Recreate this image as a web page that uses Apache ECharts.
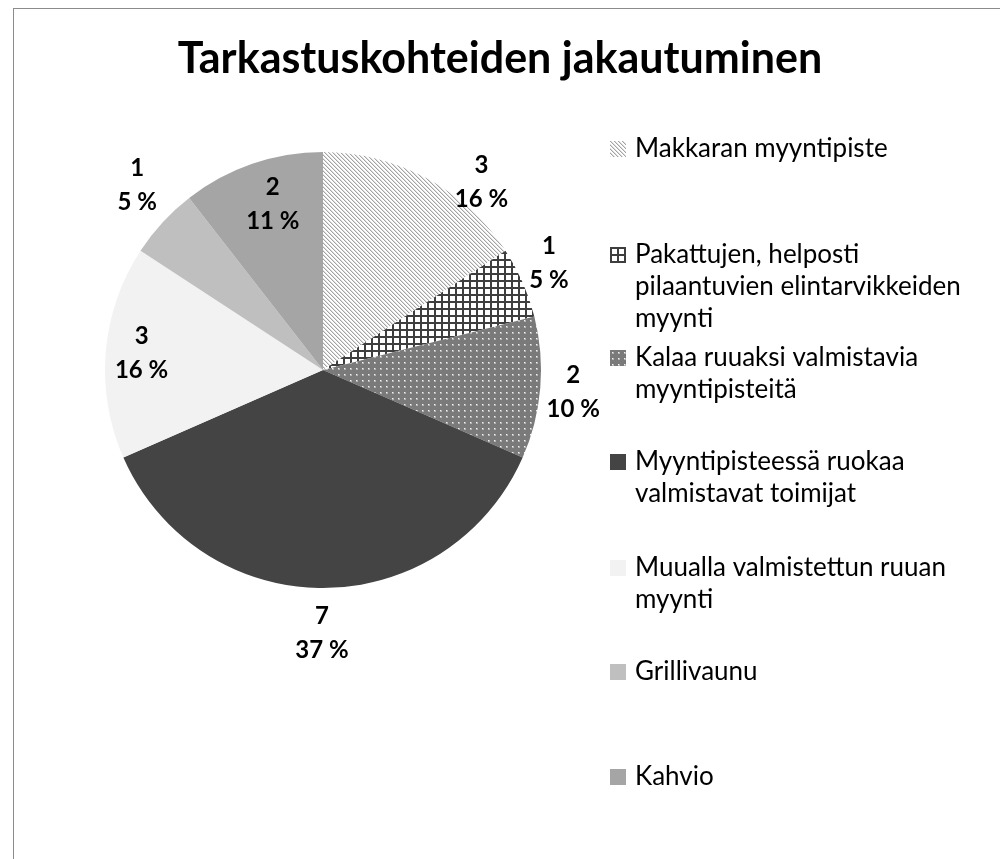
<!DOCTYPE html>
<html><head><meta charset="utf-8">
<script src="https://cdn.jsdelivr.net/npm/echarts@6/dist/echarts.min.js"></script>
<style>
html,body{margin:0;padding:0;background:#fff;overflow:hidden;}
#frame{position:absolute;left:13px;top:8px;width:1100px;height:1000px;border:1px solid #8c8c8c;}
#chart{position:absolute;left:0;top:0;width:1000px;height:859px;}
</style></head><body>
<div id="frame"></div>
<div id="chart"></div>
<script>
// ---- data ----
const titleText = 'Tarkastuskohteiden jakautuminen';
const categories = [
  'Makkaran myyntipiste',
  'Pakattujen, helposti pilaantuvien elintarvikkeiden myynti',
  'Kalaa ruuaksi valmistavia myyntipisteitä',
  'Myyntipisteessä ruokaa valmistavat toimijat',
  'Muualla valmistettun ruuan myynti',
  'Grillivaunu',
  'Kahvio'
];
const legendLines = [
  ['Makkaran myyntipiste'],
  ['Pakattujen, helposti', 'pilaantuvien elintarvikkeiden', 'myynti'],
  ['Kalaa ruuaksi valmistavia', 'myyntipisteitä'],
  ['Myyntipisteessä ruokaa', 'valmistavat toimijat'],
  ['Muualla valmistettun ruuan', 'myynti'],
  ['Grillivaunu'],
  ['Kahvio']
];
const values = [3, 1, 2, 7, 3, 1, 2];
const percentLabels = ['16 %', '5 %', '10 %', '37 %', '16 %', '5 %', '11 %'];

// ---- layout / style config ----
const legendFirstLineCenters = [149, 255, 358, 462, 568, 672, 777];
const labelRadialOffset = [31, 32, 35, 45, -36, 44, -45];
const labelShift = [[40, 31], [-3, -6], [-2, 1], [-1, 0], [0, -2], [7, -7], [6, -2]];
const LH = 32;
const FONT = 'Lato, "Open Sans", sans-serif';

function tile(w, h, draw) {
  const c = document.createElement('canvas');
  c.width = w; c.height = h;
  const g = c.getContext('2d');
  draw(g);
  return { image: c, repeat: 'repeat' };
}
const stripes = tile(4, 4, g => {
  g.fillStyle = '#ffffff'; g.fillRect(0, 0, 4, 4);
  for (let i = 0; i < 4; i++) {
    g.fillStyle = '#a4a4a4'; g.fillRect(i, i, 1, 1);
    g.fillStyle = '#dedede'; g.fillRect((i + 1) % 4, i, 1, 1);
  }
});
const grid = tile(7, 7, g => {
  g.fillStyle = '#ffffff'; g.fillRect(0, 0, 7, 7);
  g.fillStyle = '#3e3e3e'; g.fillRect(0, 0, 7, 2); g.fillRect(0, 0, 2, 7);
});
const dots = tile(6, 6, g => {
  g.fillStyle = '#7a7a7a'; g.fillRect(0, 0, 6, 6);
  g.fillStyle = '#b4b4b4'; g.fillRect(2, 2, 2, 2);
  g.fillStyle = '#f4f4f4'; g.fillRect(2, 2, 1, 1);
});
const fills = [stripes, grid, dots, '#444444', '#f2f2f2', '#bfbfbf', '#a5a5a5'];

const pieData = categories.map((name, i) => ({
  name: name,
  value: values[i],
  itemStyle: { color: fills[i] },
  labelLine: { show: false, length: labelRadialOffset[i], length2: 0 }
}));

const legends = categories.map((name, i) => {
  const n = legendLines[i].length;
  return {
    orient: 'vertical',
    left: 610,
    top: legendFirstLineCenters[i] - (2 * n - 1) * LH / 2,
    padding: 0,
    itemWidth: 16,
    itemHeight: 16,
    itemGap: 0,
    selectedMode: false,
    icon: 'rect',
    data: [{ name: name }],
    formatter: () => '\n'.repeat(n - 1) + legendLines[i].join('\n'),
    textStyle: { fontFamily: FONT, fontSize: 26, lineHeight: LH, color: '#000', padding: [0, 0, 0, 4] }
  };
});

const chart = echarts.init(document.getElementById('chart'), null, { renderer: 'canvas' });
chart.setOption({
  animation: false,
  backgroundColor: 'transparent',
  title: {
    text: titleText,
    left: 'center',
    top: 33,
    textStyle: { fontFamily: FONT, fontSize: 43, fontWeight: 'bold', color: '#000' }
  },
  legend: legends,
  series: [{
    type: 'pie',
    center: [323, 370],
    radius: 218,
    startAngle: 90,
    clockwise: true,
    avoidLabelOverlap: false,
    emphasis: { disabled: true },
    itemStyle: { borderWidth: 0 },
    label: {
      show: true,
      position: 'outside',
      distanceToLabelLine: 0,
      fontFamily: FONT,
      fontSize: 24,
      fontWeight: 'bold',
      lineHeight: 34,
      color: '#000',
      formatter: p => values[p.dataIndex] + '\n' + percentLabels[p.dataIndex]
    },
    labelLine: { show: false, length2: 0 },
    labelLayout: p => {
      const s = labelShift[p.dataIndex];
      return { align: 'center', verticalAlign: 'middle', dx: s[0], dy: s[1] };
    },
    data: pieData
  }]
});
</script>
</body></html>
